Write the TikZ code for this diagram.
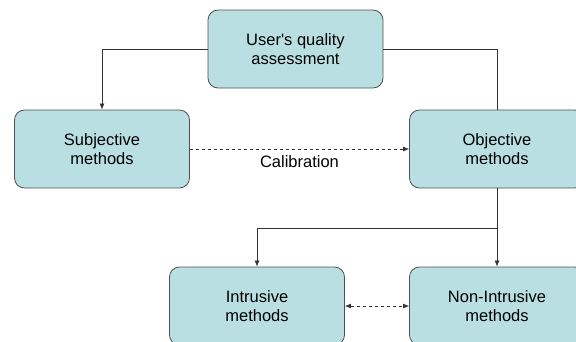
\documentclass[tikz,border=0pt]{standalone}
\usepackage{fontspec}
\setmainfont{Liberation Sans}
\usetikzlibrary{arrows.meta}
\definecolor{boxfill}{RGB}{186,223,227}
\definecolor{boxline}{RGB}{80,80,80}

\begin{document}
\begin{tikzpicture}[x=1pt,y=-1pt,
  block/.style={draw=boxline,line width=0.8pt,fill=boxfill,rounded corners=10pt,
    minimum width=175pt,minimum height=78pt,align=center,
    font=\fontsize{16.5}{18.5}\selectfont},
  conn/.style={draw=black!80,line width=0.7pt},
  tip/.style={-{Latex[length=6pt,width=5pt]}},
  dashedline/.style={dash pattern=on 3.5pt off 2.5pt}]
\useasboundingbox (0,0) rectangle (576,341);
\clip (0,0) rectangle (576,341);

% blocks
\node[block] (user) at (295.5,49) {User\textquotesingle s quality\\assessment};
\node[block] (subj) at (102,149) {Subjective\\methods};
\node[block] (obj) at (497,149) {Objective\\methods};
\node[block] (intr) at (257,306) {Intrusive\\methods};
\node[block] (nonintr) at (497,306) {Non-Intrusive\\methods};

% user assessment to both method families
\draw[conn,tip] (user.west) -| (subj.north);
\draw[conn] (user.east) -| (obj.north);

% calibration link
\draw[conn,tip,dashedline] (subj.east) -- (obj.west)
  node[midway,below=3pt,font=\fontsize{16.5}{18.5}\selectfont] (calib) {Calibration};

% objective methods split
\coordinate (split) at (obj.south |- 0,228);
\draw[conn] (obj.south) -- (split);
\draw[conn,tip] (split) -| (intr.north);
\draw[conn,tip] (split) -- (nonintr.north);

% intrusive <-> non-intrusive
\draw[conn,dashedline,{Latex[length=6pt,width=5pt]}-{Latex[length=6pt,width=5pt]}] (intr.east) -- (nonintr.west);
\end{tikzpicture}
\end{document}
